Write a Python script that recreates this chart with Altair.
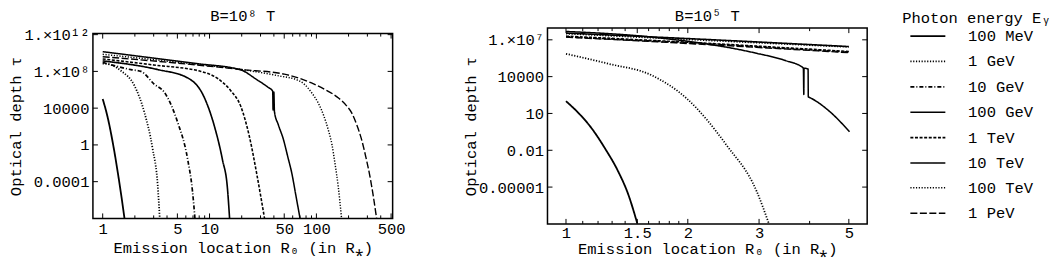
import altair as alt
import pandas as pd

FONT = "Liberation Mono"
FS = 15.5

energies = ["100 MeV", "1 GeV", "10 GeV", "100 GeV", "1 TeV", "10 TeV", "100 TeV", "1 PeV"]
dashes = [[1, 0], [1.2, 1.6], [4, 2, 1, 2], [1, 0], [3, 1.6], [1, 0], [1.2, 1.6], [7, 2.5]]
widths = [1.8, 1.4, 1.3, 1.6, 1.3, 1.8, 1.3, 1.4]

# ---- Left panel, B = 10^8 T : emission radius r (R*) and log10(optical depth)
L_r = {
    "100 MeV": [1, 1.113, 1.24, 1.38, 1.505, 1.6],
    "1 GeV": [1, 1.2, 1.48, 1.98, 2.45, 2.93, 3.27, 3.42],
    "10 GeV": [1, 1.84, 2.28, 3.04, 3.77, 5.02, 6.22, 6.93, 7.3],
    "100 GeV": [1, 3.27, 6.22, 8.9, 11.0, 13.2, 14.7, 15.4],
    "1 TeV": [1, 3, 8.3, 12, 15.8, 19.6, 23.5, 27.7, 32.7],
    "10 TeV": [1, 3, 7.6, 19.3, 27.7, 35, 39.0, 39.3, 40.0, 40.5, 44, 49.2, 54, 58.8, 64.5, 70.3],
    "100 TeV": [1, 5, 20, 45, 65, 78, 90, 104, 117, 129, 140, 149, 160, 172],
    "1 PeV": [1, 5, 20, 50, 90, 120, 161, 190, 214, 240, 265, 290, 317, 340, 366],
}
L_lt = {
    "100 MeV": [5.0, 3.0, 0.3, -2.9, -5.8, -8.0],
    "1 GeV": [8.85, 8.7, 8.07, 6.45, 3.57, -0.4, -4.36, -8.0],
    "10 GeV": [8.98, 8.19, 8.0, 6.6, 5.73, 2.49, -1.48, -5.08, -8.0],
    "100 GeV": [9.14, 8.2, 7.3, 5.2, 2.2, -1.6, -4.7, -8.0],
    "1 TeV": [9.35, 8.7, 8.0, 7.2, 5.9, 4.2, 1.0, -3.2, -8.0],
    "10 TeV": [10.15, 9.45, 8.85, 8.19, 7.1, 6.3, 5.85, 3.8, 5.75, 3.6, 2.2, 0.57, -1.3, -3.05, -5.6, -8.0],
    "100 TeV": [9.86, 9.0, 8.2, 7.5, 7.1, 6.56, 5.7, 4.57, 3.2, 1.66, 0.0, -1.96, -4.5, -8.0],
    "1 PeV": [9.6, 8.9, 8.2, 7.7, 6.74, 6.02, 5.11, 4.3, 3.48, 2.1, 0.57, -1.3, -3.42, -5.5, -8.0],
}

# ---- Right panel, B = 10^5 T
R_r = {
    "100 MeV": [1, 1.08, 1.154, 1.248, 1.346, 1.426, 1.5],
    "1 GeV": [1, 1.273, 1.628, 1.987, 2.49, 2.96, 3.17],
    "10 GeV": [1, 2, 5],
    "100 GeV": [1, 2, 5],
    "1 TeV": [1, 2, 5],
    "10 TeV": [1, 1.63, 2.96, 3.47, 3.86, 3.87, 3.875, 3.965, 3.97, 4.0, 4.49, 5.02],
    "100 TeV": [1, 2, 5],
    "1 PeV": [1, 2, 5],
}
R_lt = {
    "100 MeV": [2.0, 0.95, -0.16, -1.84, -3.73, -5.62, -7.95],
    "1 GeV": [5.86, 5.05, 4.11, 2.22, -1.56, -5.35, -7.95],
    "10 GeV": [7.25, 6.75, 6.0],
    "100 GeV": [7.55, 7.1, 6.45],
    "1 TeV": [7.3, 6.8, 6.05],
    "10 TeV": [7.68, 7.22, 5.9, 5.33, 4.7, 2.54, 4.69, 4.62, 2.35, 2.3, 1.14, -0.49],
    "100 TeV": [7.49, 7.02, 6.41],
    "1 PeV": [7.22, 6.7, 5.95],
}

# ---- axis ticks and labels
L_yticks = [1e12, 1e8, 1e4, 1, 1e-4]
L_ylabels = ["1.×10¹²", "1.×10⁸", "10000", "1", "0.0001"]
L_xticks = [1, 5, 10, 50, 100, 500]
L_xminor = [2, 3, 4, 6, 7, 8, 9, 20, 30, 40, 60, 70, 80, 90, 200, 300, 400]
R_yticks = [1e7, 1e4, 10, 0.01, 1e-5]
R_ylabels = ["1.×10⁷", "10000", "10", "0.01", "0.00001"]
R_xticks = [1, 1.5, 2, 3, 5]
R_xminor = [1.1, 1.2, 1.3, 1.4, 1.6, 1.7, 1.8, 1.9, 4]


def frame(rmap, ltmap):
    rows = []
    for e in energies:
        for r, lt in zip(rmap[e], ltmap[e]):
            rows.append({"energy": e, "r": r, "lt": lt})
    return pd.DataFrame(rows)


def label_expr(vals, labs):
    expr = "''"
    for v, l in zip(reversed(vals), reversed(labs)):
        expr = f"datum.value == {v!r} ? '{l}' : ({expr})"
    return expr


dash_scale = alt.Scale(domain=energies, range=dashes)
width_scale = alt.Scale(domain=energies, range=widths)
legend = alt.Legend(
    title="Photon energy Eᵧ", orient="none", legendX=810, legendY=-17,
    symbolType="M-0.43,0H2.43", symbolSize=600, symbolStrokeWidth=1.5,
    symbolStrokeColor="black", symbolFillColor="transparent",
    labelOffset=39, rowPadding=3.4, titlePadding=-4,
    labelFont=FONT, labelFontSize=FS, titleFont=FONT, titleFontSize=FS,
    titleFontWeight="normal", labelColor="black", titleColor="black",
)


def panel(df, title, W, H, xdom, ydom, xt, xminor, yt, ylabs, lpad, ty):
    xs = alt.Scale(type="log", domain=xdom, nice=False)
    ys = alt.Scale(type="log", domain=ydom, nice=False)
    xaxis = alt.Axis(values=xt, format="~g", title="Emission location R₀ (in R⁎)",
                     ticks=False, domain=False, grid=False, labelPadding=lpad,
                     titleY=ty, titleBaseline="middle")
    yaxis = alt.Axis(values=yt, labelExpr=label_expr(yt, ylabs), title="Optical depth τ",
                     ticks=False, domain=False, grid=False, labelPadding=4, titlePadding=0)
    X = alt.X("r:Q", scale=xs, axis=xaxis)
    Y = alt.Y("tau:Q", scale=ys, axis=yaxis)
    lines = alt.Chart(df).transform_calculate(tau="pow(10, datum.lt)").mark_line(
        interpolate="monotone", clip=True, color="black").encode(
        x=X, y=Y,
        strokeDash=alt.StrokeDash("energy:N", scale=dash_scale, legend=legend),
        strokeWidth=alt.StrokeWidth("energy:N", scale=width_scale, legend=None),
        detail="energy:N",
    )
    ydf = pd.DataFrame({"tau": yt})
    xdf = pd.DataFrame({"r": xt})
    xmdf = pd.DataFrame({"r": xminor})
    rule = dict(color="black", strokeWidth=1)
    t1 = alt.Chart(ydf).mark_rule(**rule).encode(y=Y, x=alt.value(0), x2=alt.value(5))
    t2 = alt.Chart(ydf).mark_rule(**rule).encode(y=Y, x=alt.value(W - 5), x2=alt.value(W))
    t3 = alt.Chart(xdf).mark_rule(**rule).encode(x=X, y=alt.value(H - 5), y2=alt.value(H))
    t4 = alt.Chart(xdf).mark_rule(**rule).encode(x=X, y=alt.value(0), y2=alt.value(5))
    t5 = alt.Chart(xmdf).mark_rule(**rule).encode(x=X, y=alt.value(H - 3), y2=alt.value(H))
    t6 = alt.Chart(xmdf).mark_rule(**rule).encode(x=X, y=alt.value(0), y2=alt.value(3))
    return alt.layer(lines, t1, t2, t3, t4, t5, t6).properties(
        width=W, height=H,
        title=alt.TitleParams(title, font=FONT, fontSize=FS, fontWeight="normal",
                              color="black", offset=3),
    )


left = panel(frame(L_r, L_lt), "B=10⁸ T", 300, 185, [0.81, 517], [1e-8, 1.3e12],
             L_xticks, L_xminor, L_yticks, L_ylabels, 3.5, 29)
right = panel(frame(R_r, R_lt), "B=10⁵ T", 320, 196, [0.9, 5.55], [1e-8, 9e7],
              R_xticks, R_xminor, R_yticks, R_ylabels, 2, 25)

chart = alt.hconcat(left, right, spacing=155, center=True, bounds="flush").properties(
    padding=0
).configure_view(
    stroke="black", strokeWidth=1.5
).configure_axis(
    labelFont=FONT, labelFontSize=FS, titleFont=FONT, titleFontSize=FS,
    titleFontWeight="normal", labelColor="black", titleColor="black",
)

chart.save("out.html", embed_options={"renderer": "svg", "actions": False})
